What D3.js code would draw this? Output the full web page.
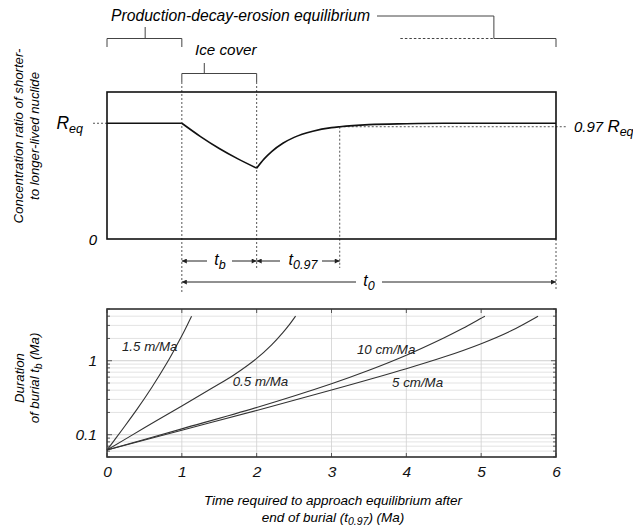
<!DOCTYPE html>
<html><head><meta charset="utf-8">
<script src="https://cdn.jsdelivr.net/npm/d3@7"></script>
<style>
body{margin:0;background:#fff;}
svg{display:block;font-family:"Liberation Sans",Arial,Helvetica,sans-serif;font-style:italic;}
</style></head><body>
<svg id="chart" width="633" height="528"></svg>
<script>
// ---------------- data ----------------
const timeTicks = [0, 1, 2, 3, 4, 5, 6];
const timeTickLabels = ["0", "1", "2", "3", "4", "5", "6"];
const burialTicks = [0.1, 1];
const burialTickLabels = ["0.1", "1"];
const burialDomain = [0.05, 5];

const seriesNames = ["1.5 m/Ma", "0.5 m/Ma", "10 cm/Ma", "5 cm/Ma"];
const rate150T = [0, 0.2, 0.4, 0.6, 0.8, 0.9, 1.0, 1.07, 1.13];
const rate150B = [0.062, 0.116, 0.22, 0.438, 0.93, 1.41, 2.17, 3.0, 4.0];
const rate50T  = [0, 0.5, 1, 1.4, 1.7, 2.0, 2.2, 2.35, 2.45, 2.52];
const rate50B  = [0.062, 0.124, 0.245, 0.424, 0.648, 1.075, 1.64, 2.4, 3.2, 4.0];
const rate10T  = [0, 1, 2, 3, 3.5, 4, 4.5, 4.75, 5, 5.05];
const rate10B  = [0.062, 0.12, 0.234, 0.49, 0.745, 1.19, 2.03, 2.72, 3.75, 4.0];
const rate5T   = [0, 1, 2, 3, 4, 4.5, 5, 5.4, 5.76];
const rate5B   = [0.062, 0.115, 0.213, 0.402, 0.78, 1.12, 1.7, 2.54, 4.0];

// schematic concentration ratio (top panel), R / Req
const ratioMax = 1.27;
const preT = [0, 1];
const preR = [1, 1];
const burialT = [1, 1.25, 1.5, 1.75, 2];
const burialR = [1, 0.885, 0.782, 0.692, 0.612];
const recoveryT = [2, 2.1, 2.2, 2.35, 2.5, 2.75, 3, 3.11, 3.5, 4, 4.5, 5, 6];
const recoveryR = [0.612, 0.692, 0.755, 0.827, 0.878, 0.931, 0.962, 0.97, 0.988, 0.996, 1, 1, 1];
const eqLevel = 1, nearEqLevel = 0.97;
const burialStart = 1, burialEnd = 2, t097End = 3.11, t0End = 6;

// ---------------- layout ----------------
const svg = d3.select("#chart");
const L = 107, R = 556;
const x = d3.scaleLinear([0, 6], [L, R]);
const yTop = d3.scaleLinear([0, ratioMax], [239, 92]);
const yBot = d3.scaleLog(burialDomain, [457, 309]);
const ink = "#222", dashC = "#555";

// arrow marker
svg.append("defs").append("marker")
  .attr("id", "arr").attr("viewBox", "0 0 10 10").attr("refX", 10).attr("refY", 5)
  .attr("markerWidth", 7).attr("markerHeight", 5).attr("markerUnits", "userSpaceOnUse")
  .attr("orient", "auto-start-reverse")
  .append("path").attr("d", "M0,0 L10,5 L0,10 Z").attr("fill", ink);

function seg(g, x1, y1, x2, y2, opts = {}) {
  const l = g.append("line").attr("x1", x1).attr("y1", y1).attr("x2", x2).attr("y2", y2)
    .attr("stroke", opts.color || "#444").attr("stroke-width", opts.w || 1);
  if (opts.dash) l.attr("stroke-dasharray", opts.dash);
  if (opts.ms) l.attr("marker-start", "url(#arr)");
  if (opts.me) l.attr("marker-end", "url(#arr)");
  return l;
}

// ---------------- top annotations ----------------
const ann = svg.append("g");
ann.append("text").attr("x", 111).attr("y", 21).attr("font-size", 15.7)
  .text("Production-decay-erosion equilibrium");
seg(ann, 377, 16, x(5.17), 16);
seg(ann, x(5.17), 16, x(5.17), 38.5);
seg(ann, x(3.92), 38.5, x(5.17), 38.5, {dash: "2.5,2"});
seg(ann, x(5.17), 38.5, x(6), 38.5);
seg(ann, x(6), 38.5, x(6), 47);
// left bracket
seg(ann, x(0.51), 27, x(0.51), 38.5);
seg(ann, x(0), 38.5, x(burialStart), 38.5);
seg(ann, x(0), 38.5, x(0), 47);
seg(ann, x(burialStart), 38.5, x(burialStart), 47);
// ice cover
ann.append("text").attr("x", 195).attr("y", 54.5).attr("font-size", 15.2).text("Ice cover");
seg(ann, x(1.3), 63, x(1.3), 73.5);
seg(ann, x(burialStart), 73.5, x(burialEnd), 73.5);
seg(ann, x(burialStart), 73.5, x(burialStart), 82);
seg(ann, x(burialEnd), 73.5, x(burialEnd), 82);

// ---------------- top panel ----------------
const topG = svg.append("g");
const dash = "2,2";
seg(topG, x(burialStart), 82, x(burialStart), 292, {dash, color: dashC});
seg(topG, x(burialEnd), 82, x(burialEnd), 268, {dash, color: dashC});
seg(topG, x(t097End), yTop(nearEqLevel), x(t097End), 268, {dash, color: dashC});
seg(topG, x(t0End), yTop(0), x(t0End), 290, {dash, color: dashC});
seg(topG, 93, yTop(eqLevel), L, yTop(eqLevel), {dash, color: dashC});
seg(topG, x(t097End), yTop(nearEqLevel), 566, yTop(nearEqLevel), {dash, color: dashC});

const lineTop = d3.line().x(d => x(d[0])).y(d => yTop(d[1])).curve(d3.curveMonotoneX);
[[preT, preR], [burialT, burialR], [recoveryT, recoveryR]].forEach(([T, V]) => {
  topG.append("path").attr("d", lineTop(d3.zip(T, V)))
    .attr("fill", "none").attr("stroke", "#111").attr("stroke-width", 1.6);
});
topG.append("rect").attr("x", L).attr("y", yTop(ratioMax)).attr("width", R - L)
  .attr("height", yTop(0) - yTop(ratioMax)).attr("fill", "none").attr("stroke", "#111").attr("stroke-width", 1.6);

// labels
const req = topG.append("text").attr("x", 83).attr("y", 129).attr("text-anchor", "end").attr("font-size", 17.5);
req.append("tspan").text("R");
req.append("tspan").attr("font-size", 12.5).attr("dy", 4).text("eq");
topG.append("text").attr("x", 97).attr("y", 244.5).attr("text-anchor", "end").attr("font-size", 15).text("0");
const r97 = topG.append("text").attr("x", 574).attr("y", 132).attr("font-size", 15);
r97.append("tspan").text("0.97 ");
r97.append("tspan").attr("font-size", 17).text("R");
r97.append("tspan").attr("font-size", 12.5).attr("dy", 4).text("eq");

const yl1 = topG.append("text").attr("transform", "translate(23,136) rotate(-90)")
  .attr("text-anchor", "middle").attr("font-size", 13.2);
yl1.append("tspan").attr("x", 0).attr("y", 0).text("Concentration ratio of shorter-");
yl1.append("tspan").attr("x", 0).attr("y", 16).text("to longer-lived nuclide");

// interval arrows
function tLabel(g, cx, cy, sub) {
  const t = g.append("text").attr("x", cx).attr("y", cy).attr("text-anchor", "middle").attr("font-size", 16);
  t.append("tspan").text("t");
  t.append("tspan").attr("font-size", 12.5).attr("dy", 4).text(sub);
}
const rowA = 261, rowB = 282;
seg(topG, 207, rowA, x(burialStart), rowA, {me: true, color: ink});
seg(topG, 232, rowA, x(burialEnd), rowA, {me: true, color: ink});
tLabel(topG, 220, rowA + 4, "b");
seg(topG, 280, rowA, x(burialEnd), rowA, {me: true, color: ink});
seg(topG, 322, rowA, x(t097End), rowA, {me: true, color: ink});
tLabel(topG, 303, rowA + 4, "0.97");
seg(topG, 356, rowB, x(burialStart), rowB, {me: true, color: ink});
seg(topG, 382, rowB, x(t0End), rowB, {me: true, color: ink});
tLabel(topG, 369, rowB + 4, "0");

// ---------------- bottom panel ----------------
const bot = svg.append("g");
const yT = yBot.ticks();
yT.forEach(v => {
  const major = burialTicks.includes(v);
  seg(bot, L, yBot(v), R, yBot(v), {color: major ? "#c4c4c4" : "#dcdcdc", w: 0.8});
  seg(bot, L, yBot(v), L + (major ? 5 : 3), yBot(v), {color: "#333", w: 0.8});
  seg(bot, R, yBot(v), R - (major ? 5 : 3), yBot(v), {color: "#333", w: 0.8});
});
timeTicks.forEach(t => {
  if (t > 0 && t < 6) seg(bot, x(t), 309, x(t), 457, {color: "#d0d0d0", w: 0.8});
  seg(bot, x(t), 457, x(t), 453, {color: "#333", w: 0.8});
  seg(bot, x(t), 309, x(t), 313, {color: "#333", w: 0.8});
});

const lineBot = d3.line().x(d => x(d[0])).y(d => yBot(d[1])).curve(d3.curveCatmullRom.alpha(0.5));
[[rate150T, rate150B], [rate50T, rate50B], [rate10T, rate10B], [rate5T, rate5B]].forEach(([T, V]) => {
  bot.append("path").attr("d", lineBot(d3.zip(T, V)))
    .attr("fill", "none").attr("stroke", "#333").attr("stroke-width", 1.1);
});

const labelAt = [[0.2, 1.37], [1.68, 0.449], [3.34, 1.25], [3.81, 0.435]];
seriesNames.forEach((n, i) => {
  bot.append("text").attr("x", x(labelAt[i][0])).attr("y", yBot(labelAt[i][1]))
    .attr("font-size", 13.3).attr("fill", "#222").text(n);
});

bot.append("rect").attr("x", L).attr("y", 309).attr("width", R - L).attr("height", 148)
  .attr("fill", "none").attr("stroke", "#333").attr("stroke-width", 1.6);

// axes
const xAxis = d3.axisBottom(x).tickValues(timeTicks).tickFormat((d, i) => timeTickLabels[i])
  .tickSize(0).tickPadding(9);
bot.append("g").attr("transform", "translate(0,457)").call(xAxis)
  .call(g => g.select(".domain").remove())
  .selectAll("text").attr("font-size", 15.5).attr("font-family", null).attr("fill", "#111");
const yAxis = d3.axisLeft(yBot).tickValues(burialTicks).tickFormat((d, i) => burialTickLabels[i])
  .tickSize(0).tickPadding(10);
bot.append("g").attr("transform", `translate(${L},0)`).call(yAxis)
  .call(g => g.select(".domain").remove())
  .selectAll("text").attr("font-size", 15.5).attr("font-family", null).attr("fill", "#111");
bot.selectAll(".tick text").style("font-style", "italic");

const byl = bot.append("text").attr("transform", "translate(24,378) rotate(-90)")
  .attr("text-anchor", "middle").attr("font-size", 13.2);
byl.append("tspan").attr("x", 0).attr("y", 0).text("Duration");
const l2 = byl.append("tspan").attr("x", 0).attr("y", 15);
l2.append("tspan").text("of burial t");
l2.append("tspan").attr("font-size", 10).attr("dy", 3).text("b");
l2.append("tspan").attr("dy", -3).text(" (Ma)");

const xt = bot.append("text").attr("x", 333).attr("text-anchor", "middle").attr("font-size", 13.5);
xt.append("tspan").attr("x", 333).attr("y", 505).text("Time required to approach equilibrium after");
const xl2 = xt.append("tspan").attr("x", 333).attr("y", 522);
xl2.append("tspan").text("end of burial (t");
xl2.append("tspan").attr("font-size", 10.5).attr("dy", 3).text("0.97");
xl2.append("tspan").attr("dy", -3).text(") (Ma)");
</script>
</body></html>
